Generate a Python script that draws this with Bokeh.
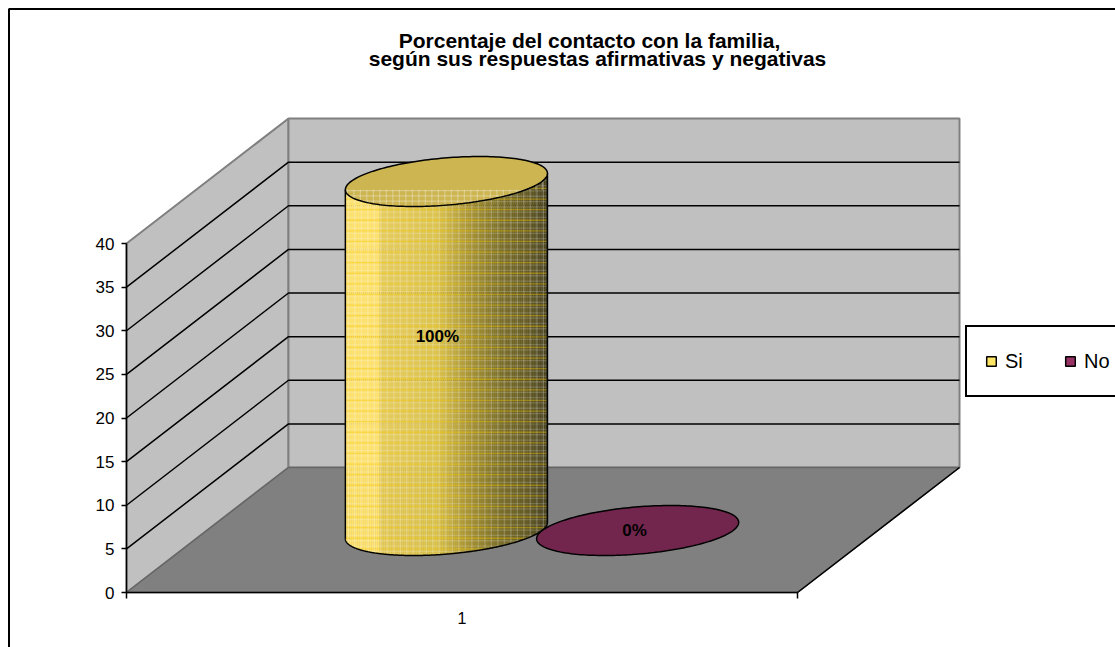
import numpy as np
from bokeh.embed import file_html
from bokeh.resources import INLINE
from bokeh.plotting import figure
from bokeh.models import (ColumnDataSource, FixedTicker, Legend, LegendItem, LinearAxis,
                          Range1d)
from bokeh.core.properties import value

# ---- data
title_lines = ["Porcentaje del contacto con la familia,",
               "según sus respuestas afirmativas y negativas"]
category = ["1"]
series_names = ["Si", "No"]
series_values = [40, 0]
series_percent = ["100%", "0%"]
series_slot = [0.857, 1.142]      # position of each cylinder along the category axis
y_ticks = [0, 5, 10, 15, 20, 25, 30, 35, 40]

# ---- layout
W, H = 1115, 647
OFF = 0
PX_X = 671.0            # px per category unit
PX_Y = 8.725            # px per value unit
AX_LEFT, AX_ZERO = 126, 592
x0 = 0.5 - (AX_LEFT - OFF) / PX_X
x1 = x0 + W / PX_X
y1 = (AX_ZERO - OFF) / PX_Y
y0 = y1 - H / PX_Y
DX, DY = 162.0 / PX_X, 125.0 / PX_Y   # depth vector of the 3D box
DEPTH = 0.496                          # cylinders stand half-way back
R_A, R_BX, R_BY = 95.5 / PX_X, 33.0 / PX_X, 25.0 / PX_Y


def sx(px):
    return x0 + (px - OFF) / PX_X


def sy(px):
    return y1 - (px - OFF) / PX_Y


def X(c, d=0.0):
    return c + d * DX


def Y(v, d=0.0):
    return v + d * DY


p = figure(width=W, height=H, output_backend="svg", toolbar_location=None,
           x_range=Range1d(x0, x1), y_range=Range1d(y0, y1),
           min_border=0, outline_line_color=None, x_axis_type=None, y_axis_type=None)
p.grid.visible = False
p.background_fill_color = "white"
p.border_fill_color = "white"

# chart frame: only its left and top edges are in view
p.line([sx(8.5), sx(8.5), sx(1130)], [sy(670), sy(8.5), sy(8.5)], line_color="#000000", line_width=2)

# ---- 3D box
top = y_ticks[-1]
L, Rt = 0.5, 1.5
p.patch([X(L), X(L), X(L, 1), X(L, 1)], [Y(0), Y(top), Y(top, 1), Y(0, 1)],
        fill_color="#c0c0c0", line_color="#808080", line_width=2)
p.patch([X(L, 1), X(L, 1), X(Rt, 1), X(Rt, 1)], [Y(0, 1), Y(top, 1), Y(top, 1), Y(0, 1)],
        fill_color="#c0c0c0", line_color="#808080", line_width=2)
p.patch([X(L), X(Rt), X(Rt, 1), X(L, 1)], [Y(0), Y(0), Y(0, 1), Y(0, 1)],
        fill_color="#808080", line_color="#666666", line_width=1.5)
p.line([X(Rt), X(Rt, 1)], [Y(0), Y(0, 1)], line_color="#000000", line_width=1.5)

inner = y_ticks[1:-1]
p.multi_line([[X(L), X(L, 1), X(Rt, 1)] for _ in inner],
             [[Y(v), Y(v, 1), Y(v, 1)] for v in inner],
             line_color="#000000", line_width=1.5)


# ---- cylinder helpers
def disc(cat, v, n=200):
    t = np.linspace(0, 2 * np.pi, n)
    return (X(cat, DEPTH) + R_A * np.cos(t) + R_BX * np.sin(t),
            Y(v, DEPTH) + R_BY * np.sin(t))


def lower_arc(cat, v, n=300):
    a = np.arctan2(R_BX, R_A)
    t = np.linspace(np.pi + a, 2 * np.pi + a, n)
    return (X(cat, DEPTH) + R_A * np.cos(t) + R_BX * np.sin(t),
            Y(v, DEPTH) + R_BY * np.sin(t))


def upper_arc(cat, v, n=300):
    a = np.arctan2(R_BX, R_A)
    t = np.linspace(np.pi + a, a, n)
    return (X(cat, DEPTH) + R_A * np.cos(t) + R_BX * np.sin(t),
            Y(v, DEPTH) + R_BY * np.sin(t))


def shade(f):
    stops = [0.0, 0.16, 0.17, 0.45, 0.62, 0.78, 0.90, 1.0]
    r = [255, 255, 232, 222, 165, 120, 100, 70]
    g = [226, 226, 206, 196, 145, 108, 90, 64]
    b = [110, 110, 92, 76, 48, 40, 36, 30]
    return "#%02x%02x%02x" % (int(np.interp(f, stops, r)), int(np.interp(f, stops, g)),
                              int(np.interp(f, stops, b)))


cat_si, val_si = series_slot[0], series_values[0]
cat_no, val_no = series_slot[1], series_values[1]

# body as narrow vertical strips, darkening to the right
ax, ay = lower_arc(cat_si, 0)
step = 2.0 / PX_X
edges = np.arange(ax[0], ax[-1] + step, step)
edges[-1] = ax[-1]
xs, ys, cols = [], [], []
for i in range(len(edges) - 1):
    a, b = edges[i], edges[i + 1]
    ya, yb = np.interp(a, ax, ay), np.interp(b, ax, ay)
    xs.append([a, b, b, a])
    ys.append([ya, yb, yb + val_si, ya + val_si])
    cols.append(shade((a - ax[0]) / (ax[-1] - ax[0])))
p.patches(xs, ys, fill_color=cols, line_color=cols, line_width=0.4)


def body_span(xv):
    return np.interp(xv, ax, ay), np.interp(xv, ax, ay) + val_si


# plaid on the body: vertical pale threads
vx, vy = [], []
for i, xv in enumerate(np.arange(ax[0] + 3 / PX_X, ax[-1], 6.5 / PX_X)):
    lo, hi = body_span(xv)
    vx.append([xv, xv])
    vy.append([lo, hi])
p.multi_line(vx, vy, line_color="#ffffff", line_alpha=0.2, line_width=1.4)

# plaid on the body: horizontal threads
for spacing, offset, col, alpha, lw in [(5.3, 0.0, "#ffffff", 0.17, 1.3),
                                        (10.6, 2.5, "#f6c800", 0.38, 1.3)]:
    hx, hy = [], []
    for yv in np.arange(-5, 60, spacing / PX_Y) + offset / PX_Y:
        lo, hi = body_span(edges)
        mask = (lo <= yv) & (yv <= hi)
        if mask.sum() > 1:
            e = edges[mask]
            hx.append([e[0], e[-1]])
            hy.append([yv, yv])
    p.multi_line(hx, hy, line_color=col, line_alpha=alpha, line_width=lw)

# outline of the body
p.line(list(ax) + [ax[-1]] + [ax[0]],
       list(ay) + [ay[-1] + val_si] + [ay[0] + val_si],
       line_color="#000000", line_width=1.5)
p.line([ax[0], ax[0]], [ay[0], ay[0] + val_si], line_color="#000000", line_width=1.5)

# top cap
tx, ty = disc(cat_si, val_si)
p.patch(tx, ty, fill_color="#cdb552", line_color=None)
ux, uy = upper_arc(cat_si, val_si)
lx, ly = lower_arc(cat_si, val_si)
cap_x = np.arange(lx[0] + 2 / PX_X, lx[-1], 6.5 / PX_X)
p.multi_line([[c, c] for c in cap_x],
             [[np.interp(c, lx, ly), np.interp(c, ux[::-1], uy[::-1])] for c in cap_x],
             line_color="#ffffff", line_alpha=0.3, line_width=1.2)
cap_y = np.arange(ly.min(), uy.max(), 5.3 / PX_Y)
hx, hy = [], []
probe = np.linspace(lx[0], lx[-1], 300)
for yv in cap_y:
    mask = (np.interp(probe, lx, ly) <= yv) & (yv <= np.interp(probe, ux[::-1], uy[::-1]))
    if mask.sum() > 1:
        hx.append([probe[mask][0], probe[mask][-1]])
        hy.append([yv, yv])
p.multi_line(hx, hy, line_color="#ffffff", line_alpha=0.3, line_width=1.2)
p.line(tx, ty, line_color="#000000", line_width=1.5)

# flat cylinder of the second series
nx, ny = disc(cat_no, val_no)
p.patch(nx, ny, fill_color="#72264e", line_color="#000000", line_width=1.5)

# ---- axes
yax = LinearAxis(ticker=FixedTicker(ticks=y_ticks), fixed_location=0.5, bounds=(0, top),
                 axis_line_color="#000000", axis_line_width=1.5,
                 major_tick_line_color="#000000", major_tick_line_width=1.5,
                 major_tick_out=5, major_tick_in=0, minor_tick_out=0, minor_tick_in=0,
                 major_label_text_font="Liberation Sans", major_label_text_font_size="17px",
                 major_label_text_color="#000000", major_label_standoff=7)
p.add_layout(yax, "left")
xax = LinearAxis(ticker=FixedTicker(ticks=[1], minor_ticks=[0.5, 1.5]), fixed_location=0,
                 bounds=(0.5, 1.5), major_label_overrides={1: category[0]},
                 axis_line_color="#000000", axis_line_width=1.5,
                 major_tick_out=0, major_tick_in=0, minor_tick_out=6, minor_tick_in=0,
                 minor_tick_line_color="#000000", minor_tick_line_width=1.5,
                 major_label_text_font="Liberation Sans", major_label_text_font_size="16px",
                 major_label_text_color="#000000", major_label_standoff=13)
p.add_layout(xax, "below")

# ---- texts
p.text([sx(589), sx(597)], [sy(40), sy(58)], text=title_lines,
       text_font=value("Liberation Sans"), text_font_style="bold", text_font_size="21px",
       text_align="center", text_baseline="middle", text_color="#000000")
p.text([X(cat_si, DEPTH) - 9 / PX_X, X(cat_no, DEPTH) - 3 / PX_X],
       [val_si / 2 + DEPTH * DY + 20 / PX_Y, val_no + DEPTH * DY],
       text=series_percent,
       text_font=value("Liberation Sans"), text_font_style="bold", text_font_size="17px",
       text_align="center", text_baseline="middle", text_color="#000000")

# ---- legend
nan = float("nan")
swatch = dict(left=[nan], right=[nan], top=[nan], bottom=[nan])
r_si = p.quad(source=ColumnDataSource(swatch), left="left", right="right", top="top", bottom="bottom",
              fill_color="#ffe566", line_color="#000000", line_width=1.5)
r_no = p.quad(source=ColumnDataSource(swatch), left="left", right="right", top="top", bottom="bottom",
              fill_color="#993366", line_color="#000000", line_width=1.5)
legend = Legend(items=[LegendItem(label=series_names[0], renderers=[r_si]),
                       LegendItem(label=series_names[1], renderers=[r_no])],
                orientation="horizontal", location=(965, H - 397), margin=0, padding=18,
                spacing=39, glyph_width=12, glyph_height=12, label_standoff=8, label_height=32,
                label_text_font="Liberation Sans", label_text_font_size="20px",
                label_text_color="#000000", border_line_color="#000000", border_line_width=2,
                border_line_alpha=1.0, background_fill_color="white", background_fill_alpha=1.0)
p.add_layout(legend, "center")

open("out.html", "w").write(file_html(p, INLINE))
